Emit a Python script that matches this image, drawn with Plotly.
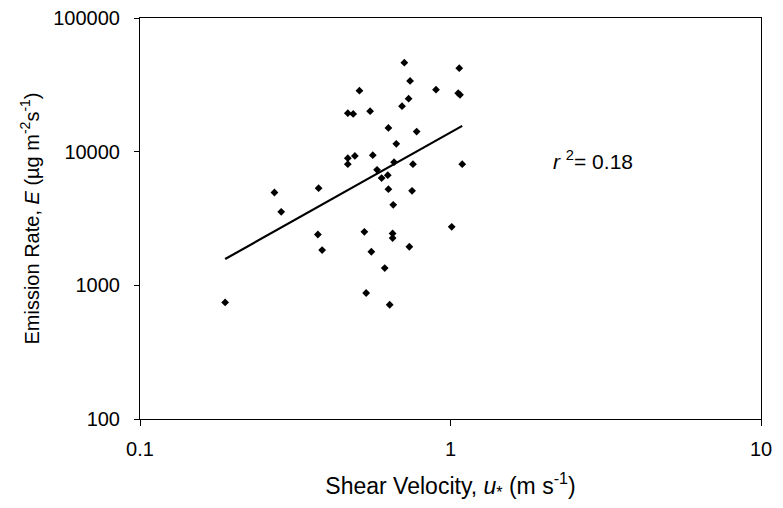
import plotly.graph_objects as go

# Shear velocity u* (m s-1) and emission rate E (ug m-2 s-1)
u_star = [0.710, 1.067, 0.741, 0.509, 0.898, 1.059, 1.073, 0.733, 0.698, 0.467,
          0.486, 0.551, 0.631, 0.778, 0.669, 0.467, 0.492, 0.467, 0.562, 0.658,
          0.757, 1.091, 0.580, 0.600, 0.628, 0.271, 0.376, 0.631, 0.752, 0.285,
          0.654, 0.374, 0.528, 0.651, 0.651, 1.009, 0.386, 0.556, 0.737, 0.614,
          0.188, 0.535, 0.637]
emission = [46300, 42100, 33800, 28600, 29100, 27400, 26600, 24900, 21900, 19400,
            19150, 20080, 15060, 14130, 11440, 8940, 9300, 8065, 9415, 8345,
            8065, 8065, 7310, 6340, 6675, 4947, 5336, 5244, 5093, 3549,
            4003, 2401, 2515, 2443, 2257, 2742, 1836, 1783, 1943, 1347,
            745, 876, 716]

# Power-law trend line end points
trend_x = [0.188, 1.091]
trend_y = [1573, 15590]

x_ticks = [0.1, 1, 10]
x_tick_labels = ["0.1", "1", "10"]
y_ticks = [100, 1000, 10000, 100000]
y_tick_labels = ["100", "1000", "10000", "100000"]

FONT = "Liberation Sans, Arial, sans-serif"

fig = go.Figure()
fig.add_trace(go.Scatter(
    x=u_star, y=emission, mode="markers",
    marker=dict(symbol="diamond", size=6, color="black"),
    showlegend=False))
fig.add_trace(go.Scatter(
    x=trend_x, y=trend_y, mode="lines",
    line=dict(color="black", width=2.2), showlegend=False))

fig.add_annotation(
    x=0.7287, y=0.646, xref="paper", yref="paper",
    text="<i>r</i> <sup>2</sup>= 0.18", showarrow=False,
    font=dict(family=FONT, size=21, color="black"), xanchor="center", yanchor="middle")

fig.update_xaxes(
    type="log", range=[-1, 1], automargin=False,
    tickvals=x_ticks, ticktext=x_tick_labels,
    ticks="outside", ticklen=6, tickcolor="black", tickwidth=1,
    showline=True, linecolor="black", linewidth=1, mirror=True,
    showgrid=False, zeroline=False,
    ticklabelstandoff=6, ticklabeloverflow="allow",
    tickfont=dict(family=FONT, size=20, color="black"),
    title=dict(text="Shear Velocity, <i>u</i><sub>*</sub> (m s<sup>-1</sup>)",
               font=dict(family=FONT, size=23, color="black"), standoff=18))
fig.update_yaxes(
    type="log", range=[2, 5], automargin=False,
    tickvals=y_ticks, ticktext=y_tick_labels,
    ticks="outside", ticklen=5, tickcolor="black", tickwidth=1,
    showline=True, linecolor="black", linewidth=1, mirror=True,
    showgrid=False, zeroline=False,
    ticklabelstandoff=10, ticklabeloverflow="allow",
    tickfont=dict(family=FONT, size=20, color="black"),
    title=dict(text="Emission Rate, <i>E</i> (µg m<sup>-2</sup>s<sup>-1</sup>)",
               font=dict(family=FONT, size=20, color="black"), standoff=8))

fig.update_layout(
    width=783, height=508,
    margin=dict(l=140, r=22, t=18, b=89),
    plot_bgcolor="white", paper_bgcolor="white",
    font=dict(family=FONT, color="black"))

# Remove the page's default body margin so the figure fills the window
fig.write_html("out.html", config={"displayModeBar": False},
               post_script="document.body.style.margin='0px';")
